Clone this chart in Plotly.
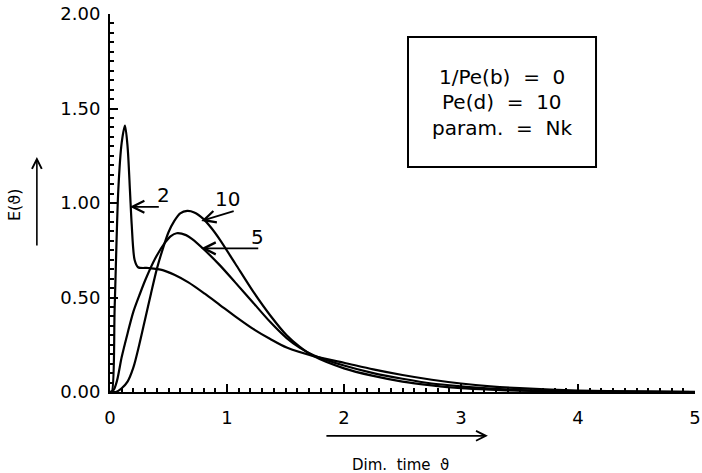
import plotly.graph_objects as go

# ---- data ----
theta_nk2 = [0.0, 0.015, 0.04, 0.071, 0.10, 0.128, 0.15, 0.171, 0.185, 0.21, 0.24, 0.33, 0.45, 0.55,
             0.67, 0.81, 0.94, 1.07, 1.22, 1.37, 1.51, 1.74, 2.0, 2.25, 2.5, 2.75, 3.0, 3.25, 3.5,
             4.0, 4.5, 5.0]
e_nk2 = [0.0, 0.0, 0.45, 1.07, 1.32, 1.41, 1.30, 1.06, 0.89, 0.70, 0.66, 0.656, 0.645, 0.62,
         0.58, 0.52, 0.46, 0.40, 0.335, 0.28, 0.235, 0.19, 0.155, 0.12, 0.09, 0.065, 0.045, 0.03,
         0.02, 0.008, 0.003, 0.001]

theta_nk5 = [0.0, 0.03, 0.06, 0.10, 0.15, 0.20, 0.25, 0.30, 0.385, 0.47, 0.52, 0.57, 0.65, 0.70,
             0.81, 0.94, 1.07, 1.22, 1.37, 1.51, 1.62, 1.74, 2.0, 2.25, 2.5, 2.75, 3.0, 3.25, 3.5,
             4.0, 4.5, 5.0]
e_nk5 = [0.0, 0.01, 0.06, 0.185, 0.31, 0.425, 0.51, 0.59, 0.705, 0.79, 0.825, 0.84, 0.83, 0.81,
         0.75, 0.67, 0.58, 0.475, 0.37, 0.285, 0.235, 0.195, 0.14, 0.10, 0.07, 0.045, 0.03, 0.018,
         0.01, 0.004, 0.001, 0.0]

theta_nk10 = [0.0, 0.05, 0.10, 0.15, 0.20, 0.25, 0.30, 0.35, 0.40, 0.45, 0.50, 0.55, 0.60, 0.66,
              0.72, 0.80, 0.87, 0.94, 1.07, 1.22, 1.37, 1.51, 1.62, 1.74, 2.0, 2.25, 2.5, 2.75,
              3.0, 3.25, 3.5, 4.0, 4.5, 5.0]
e_nk10 = [0.0, 0.0, 0.02, 0.055, 0.13, 0.25, 0.385, 0.52, 0.65, 0.755, 0.845, 0.905, 0.945, 0.958,
          0.95, 0.915, 0.865, 0.805, 0.68, 0.535, 0.405, 0.30, 0.24, 0.19, 0.125, 0.085, 0.055,
          0.035, 0.02, 0.012, 0.007, 0.002, 0.0005, 0.0]

curve_labels = ["2", "10", "5"]
x_ticks = [0, 1, 2, 3, 4, 5]
y_ticks = [0.0, 0.5, 1.0, 1.5, 2.0]
info_lines = ["1/Pe(b)  =  0", "Pe(d)  =  10", "param.  =  Nk"]
x_title = "Dim.  time  ϑ"
y_title = "E(ϑ)"

FONT = "DejaVu Sans"

fig = go.Figure()
for xs, ys in [(theta_nk2, e_nk2), (theta_nk5, e_nk5), (theta_nk10, e_nk10)]:
    fig.add_trace(go.Scatter(x=xs, y=ys, mode="lines",
                             line=dict(color="black", width=2.2, shape="spline", smoothing=0.8),
                             showlegend=False, hoverinfo="skip"))

fig.update_layout(
    width=702, height=473,
    margin=dict(l=110, r=7, t=14, b=81),
    paper_bgcolor="white", plot_bgcolor="white",
    font=dict(family=FONT, color="black"),
    showlegend=False,
)
fig.update_xaxes(range=[0, 5], tickvals=x_ticks, ticktext=[str(v) for v in x_ticks],
                 automargin=False, ticklabeloverflow="allow",
                 showgrid=False, zeroline=False, showline=True, linecolor="black", linewidth=2,
                 ticks="inside", ticklen=8, tickwidth=2, tickcolor="black", ticklabelstandoff=8,
                 tickfont=dict(family=FONT, size=18, color="black"),
                 minor=dict(dtick=0.1, ticks="inside", ticklen=4, tickwidth=1.5, tickcolor="black"))
fig.update_yaxes(range=[0, 2], tickvals=y_ticks, ticktext=[f"{v:.2f}" for v in y_ticks],
                 automargin=False, ticklabeloverflow="allow",
                 showgrid=False, zeroline=False, showline=True, linecolor="black", linewidth=2,
                 ticks="inside", ticklen=8, tickwidth=2, tickcolor="black", ticklabelstandoff=4,
                 tickfont=dict(family=FONT, size=18, color="black"),
                 minor=dict(dtick=0.05, ticks="inside", ticklen=4, tickwidth=1.5, tickcolor="black"))

# curve arrows (tip on curve, tail toward label)
arrows = [((0.17, 0.98), (0.43, 0.98), (0.455, 1.04)),
          ((0.78, 0.905), (1.07, 0.96), (1.0, 1.02)),
          ((0.78, 0.76), (1.28, 0.76), (1.26, 0.82))]
for lab, (tip, tail, lpos) in zip(curve_labels, arrows):
    fig.add_annotation(x=tip[0], y=tip[1], ax=tail[0], ay=tail[1], xref="x", yref="y",
                       axref="x", ayref="y", showarrow=True, arrowhead=5, arrowsize=1.3,
                       arrowwidth=1.8, arrowcolor="black", text="")
    fig.add_annotation(x=lpos[0], y=lpos[1], xref="x", yref="y", text=lab, showarrow=False,
                       xanchor="center", yanchor="middle",
                       font=dict(family=FONT, size=20, color="black"))

# info box
fig.add_shape(type="rect", xref="x", yref="y", x0=2.547, x1=4.154, y0=1.19, y1=1.878,
              line=dict(color="black", width=2), fillcolor="white")
for i, t in enumerate(info_lines):
    fig.add_annotation(x=3.35, y=1.668 - i * 0.135, xref="x", yref="y", text=t, showarrow=False,
                       xanchor="center", yanchor="middle",
                       font=dict(family=FONT, size=20, color="black"))

# axis titles with arrows
fig.add_annotation(x=-0.162, y=0.495, xref="paper", yref="paper", text=y_title, textangle=-90,
                   xanchor="center", yanchor="middle",
                   showarrow=False, font=dict(family=FONT, size=16, color="black"))
fig.add_annotation(x=-0.125, y=0.622, xref="paper", yref="paper", ax=0, ay=90, text="",
                   showarrow=True, arrowhead=5, arrowsize=1.2, arrowwidth=1.6, arrowcolor="black")
fig.add_annotation(x=0.497, y=-0.193, xref="paper", yref="paper", text=x_title,
                   xanchor="center", yanchor="middle",
                   showarrow=False, font=dict(family=FONT, size=15, color="black"))
fig.add_annotation(x=0.646, y=-0.116, xref="paper", yref="paper", ax=-163, ay=0, text="",
                   showarrow=True, arrowhead=5, arrowsize=1.2, arrowwidth=1.6, arrowcolor="black")

fig.write_html("out.html", config={"displayModeBar": False},
               post_script="document.body.style.margin='0';")
